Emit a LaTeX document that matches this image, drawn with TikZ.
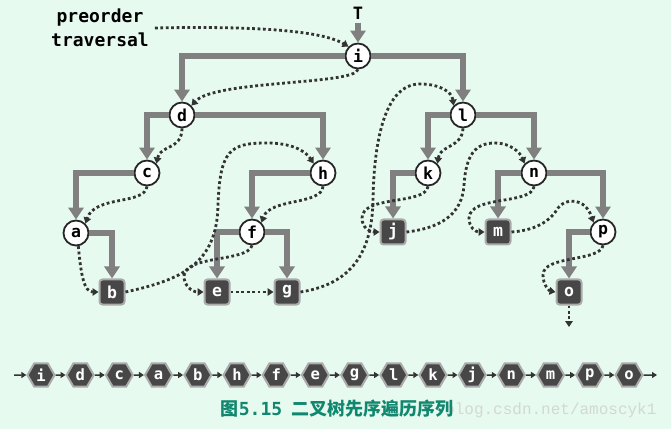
\documentclass[tikz,border=0pt]{standalone}
\usepackage{fontspec}
\setmonofont{DejaVu Sans Mono}
\newfontfamily\cjkfont{Noto Sans CJK SC}
\newfontfamily\wmfont{Liberation Mono}
\usetikzlibrary{arrows.meta,shapes.geometric}

\definecolor{bgmint}{HTML}{E6FAF0}
\definecolor{edgegray}{HTML}{808080}
\definecolor{darkbox}{HTML}{474747}
\definecolor{rimgray}{HTML}{ABABAB}
\definecolor{capteal}{HTML}{10876E}
\definecolor{dotline}{HTML}{333333}
\definecolor{wmgray}{HTML}{D2D8D5}

\begin{document}
\begin{tikzpicture}[
    x=1pt, y=-1pt,
    every node/.style={font=\ttfamily\bfseries\fontsize{16.5}{16.5}\selectfont},
    inner/.style={circle, draw=black!85, line width=1.8pt, fill=white, minimum size=25pt, inner sep=0pt},
    leaf/.style={rectangle, rounded corners=3pt, draw=rimgray, line width=2pt, fill=darkbox, text=white, minimum size=25pt, inner sep=0pt},
    seqhex/.style={regular polygon, regular polygon sides=6, draw=rimgray, line width=2pt, fill=darkbox, text=white, minimum size=27pt, inner sep=0pt, font=\ttfamily\bfseries\fontsize{15.5}{15.5}\selectfont},
    tree/.style={draw=edgegray, line width=6pt, -{Triangle[width=15pt,length=12pt]}},
    trav/.style={draw=dotline, line width=2.8pt, dash pattern=on 2.8pt off 2.6pt, -{Triangle[width=7.5pt,length=6pt]}},
    seqarrow/.style={draw=dotline, line width=1.5pt, -{Triangle[width=6pt,length=5pt]}}
]
    % background
    \useasboundingbox (0,0) rectangle (671,435);
    \fill[bgmint] (0,0) rectangle (671,429);

    % labels
    \node[font=\ttfamily\bfseries\fontsize{18}{24}\selectfont, align=center, inner sep=6pt] (lbl) at (100,28) {preorder\\traversal};
    \node[font=\ttfamily\bfseries\fontsize{17}{17}\selectfont] (T) at (358,13) {T};

    % tree nodes
    \node[inner] (i) at (358,56) {i};
    \node[inner] (d) at (182,115) {d};
    \node[inner] (l) at (463,115) {l};
    \node[inner] (c) at (147,173) {c};
    \node[inner] (h) at (323,173) {h};
    \node[inner] (k) at (428,173) {k};
    \node[inner] (n) at (534,173) {n};
    \node[inner] (a) at (76,233) {a};
    \node[inner] (f) at (252,232) {f};
    \node[leaf] (j) at (393,232) {j};
    \node[leaf] (m) at (498,232) {m};
    \node[inner] (p) at (603,232) {p};
    \node[leaf] (b) at (112,292) {b};
    \node[leaf] (e) at (217,292) {e};
    \node[leaf] (g) at (287,292) {g};
    \node[leaf] (o) at (569,292) {o};
    \coordinate (oend) at (569,327);

    % tree edges
    \draw[tree] (T) -- (i);
    \draw[tree] (i.west) -| (d.north);
    \draw[tree] (i.east) -| (l.north);
    \draw[tree] (d.west) -| (c.north);
    \draw[tree] (d.east) -| (h.north);
    \draw[tree] (c.west) -| (a.north);
    \draw[tree] (a.east) -| (b.north);
    \draw[tree] (h.west) -| (f.north);
    \draw[tree] (f.west) -| (e.north);
    \draw[tree] (f.east) -| (g.north);
    \draw[tree] (l.west) -| (k.north);
    \draw[tree] (l.east) -| (n.north);
    \draw[tree] (k.west) -| (j.north);
    \draw[tree] (n.west) -| (m.north);
    \draw[tree] (n.east) -| (p.north);
    \draw[tree] (p.west) -| (o.north);

    % preorder walk
    \draw[trav] (lbl.east) .. controls (250,26) and (320,30) .. (i.north west);
    \draw[trav] (i.south) .. controls (355,85) and (215,80) .. (d.north east);
    \draw[trav] (d.south) .. controls (182,150) and (160,145) .. (c.north east);
    \draw[trav] (c.south) .. controls (145,205) and (95,195) .. (a.north east);
    \draw[trav] (a.-80) .. controls (81,275) and (84,292) .. (b.west);
    \draw[trav] (b.east) .. controls (180,280) and (217,265) .. (218,205)
        .. controls (220,150) and (230,143) .. (267,143)
        .. controls (290,143) and (305,150) .. (h.north west);
    \draw[trav] (h.south) .. controls (322,205) and (270,198) .. (f.north east);
    \draw[trav] (f.south) .. controls (248,262) and (185,255) .. (184,276)
        .. controls (184,286) and (192,292) .. (e.west);
    \draw[trav] (e) -- (g);
    \draw[trav] (g.east) .. controls (345,285) and (372,260) .. (373,200)
        .. controls (374,140) and (385,84) .. (420,84)
        .. controls (440,84) and (452,92) .. (l.north west);
    \draw[trav] (l.south) .. controls (462,148) and (440,145) .. (k.north east);
    \draw[trav] (k.south) .. controls (426,205) and (362,195) .. (362,218)
        .. controls (362,228) and (370,232) .. (j.west);
    \draw[trav] (j.east) .. controls (440,228) and (462,215) .. (464,185)
        .. controls (466,155) and (475,143) .. (495,143)
        .. controls (510,143) and (520,152) .. (n.north west);
    \draw[trav] (n.south) .. controls (532,205) and (470,195) .. (469,218)
        .. controls (469,228) and (476,232) .. (m.west);
    \draw[trav] (m.east) .. controls (540,230) and (552,218) .. (558,208)
        .. controls (565,198) and (585,197) .. (p.north west);
    \draw[trav] (p.south) .. controls (600,262) and (543,255) .. (543,275)
        .. controls (543,286) and (550,291) .. (o.west);
    \draw[trav] (o.south) -- (oend);

    % preorder sequence
    \coordinate (s0) at (14,375);
    \foreach \ch [count=\k] in {i,d,c,a,b,h,f,e,g,l,k,j,n,m,p,o}
        \node[seqhex] (s\k) at ({41+39.2*(\k-1)},375) {\ch};
    \coordinate (send) at (657,375);
    \foreach \k [remember=\k as \j (initially 0)] in {1,...,16}
        \draw[seqarrow] (s\j) -- (s\k);
    \draw[seqarrow] (s16) -- (send);

    % caption
    \node[anchor=east, font=\wmfont\fontsize{16}{16}\selectfont, text=wmgray] (wm) at (660,410) {blog.csdn.net/amoscyk1};
    \node[font=\cjkfont\bfseries\fontsize{18}{18}\selectfont, text=capteal] (cap) at (337,409) {图{\ttfamily 5.15}\hspace{9pt}二叉树先序遍历序列};
\end{tikzpicture}
\end{document}
